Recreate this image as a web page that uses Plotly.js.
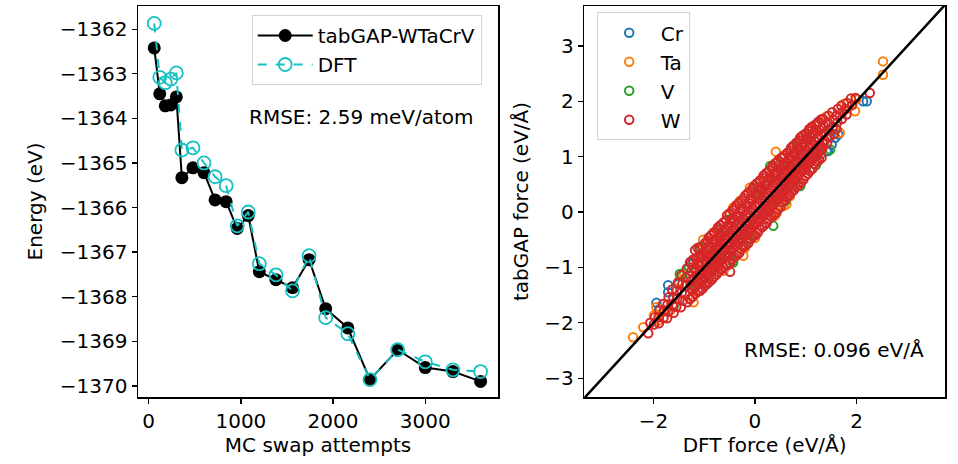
<!DOCTYPE html>
<html>
<head>
<meta charset="utf-8">
<script src="https://cdn.plot.ly/plotly-3.0.1.min.js"></script>
<style>html,body{margin:0;padding:0;background:#fff;}#chart{width:958px;height:464px;}</style>
</head>
<body>
<div id="chart"></div>
<script>
// ---- Left panel: energy vs MC swap attempts ----
const swapAttempts = [60,120,180,240,300,360,480,600,720,840,960,1080,1200,1380,1560,1740,1920,2160,2400,2700,3000,3300,3600];
const energyTabGAP = [-1362.42,-1363.45,-1363.72,-1363.70,-1363.52,-1365.33,-1365.11,-1365.22,-1365.83,-1365.87,-1366.47,-1366.18,-1367.44,-1367.62,-1367.80,-1367.17,-1368.27,-1368.70,-1369.86,-1369.19,-1369.59,-1369.68,-1369.90];
const energyDFT    = [-1361.87,-1363.08,-1363.20,-1363.12,-1362.98,-1364.71,-1364.66,-1365.00,-1365.31,-1365.51,-1366.41,-1366.10,-1367.26,-1367.51,-1367.87,-1367.08,-1368.47,-1368.83,-1369.86,-1369.19,-1369.46,-1369.64,-1369.68];

// ---- Right panel: force parity (DFT force, tabGAP force) ----
const crDFT = [2.20,2.13,1.51,1.44,1.64,1.41,1.58,-1.71,-1.71,-1.94,-1.88,-1.28,-1.25,-1.50,0.20,-0.30,0.80,-0.80,1.20,0.55,-0.60,-1.05];
const crTab = [2.00,2.00,1.22,1.10,1.40,1.10,1.34,-1.32,-1.45,-1.64,-1.75,-0.91,-0.94,-1.30,0.10,-0.20,0.90,-0.90,1.00,0.62,-0.70,-1.12];

const taDFT = [2.52,2.52,1.97,1.99,1.41,0.92,0.82,0.41,0.33,-0.03,-0.10,0.69,0.56,0.43,0.39,1.67,-1.02,-1.08,-0.82,-1.21,-0.62,-0.67,-2.40,-2.20,-1.94,-1.87,-1.67,-1.99,-1.21,-1.90,-0.43,-0.23,-0.50,-0.30,0.10,0.20,1.20,1.10,-1.40,-1.50,0.90,1.20,-0.20,0.00,0.62,1.75,-0.62];
const taTab = [2.72,2.48,1.82,2.03,1.73,1.37,1.25,1.09,0.80,0.44,0.44,0.29,0.11,-0.01,-0.07,1.43,-0.50,-0.70,-0.37,-1.42,-0.91,-1.03,-2.26,-2.08,-1.72,-1.84,-1.78,-1.87,-1.63,-1.96,0.08,-0.79,-0.05,0.20,0.55,0.65,1.55,1.50,-1.10,-1.25,0.50,0.85,-0.65,-0.47,0.14,1.95,-1.06];

const vDFT = [1.08,0.75,0.85,0.82,0.49,0.30,1.48,0.75,0.89,0.36,-0.13,-0.43,-0.49,-1.08,-1.08,-0.43,-1.44,-0.72,-1.48,-0.23,-0.03,-0.49,1.20,1.30,1.60,-1.60,-1.20,0.60,0.10,-0.70,-0.95,1.00,-1.30,0.05];
const vTab = [1.37,1.19,1.24,1.25,0.86,0.83,1.13,0.71,0.47,-0.25,-0.49,-0.91,-0.13,-0.63,-0.64,-0.88,-1.15,-0.85,-1.12,-0.61,-0.43,-0.79,0.85,1.05,1.50,-1.70,-1.30,0.20,0.30,-0.30,-1.30,1.40,-1.00,0.45];

const wDFT = [
-2.10,-2.06,-1.97,-1.99,-1.88,-1.90,-1.89,-1.81,-1.79,-1.80,-1.70,-1.72,-1.71,-1.73,-1.63,-1.61,-1.62,-1.60,
-1.52,-1.54,-1.53,-1.55,-1.45,-1.43,-1.44,-1.42,-1.46,-1.34,-1.36,-1.35,-1.37,-1.33,
-1.27,-1.25,-1.26,-1.24,-1.28,
-1.18,-1.16,-1.17,-1.15,-1.19,-1.17,
-1.09,-1.07,-1.08,-1.06,-1.10,-1.08,
-0.98,-1.00,-0.99,-0.97,-1.01,-0.99,
-0.91,-0.89,-0.90,-0.88,-0.92,-0.90,
-0.80,-0.82,-0.81,-0.79,-0.83,-0.81,
-0.73,-0.71,-0.72,-0.70,-0.74,-0.72,
-0.62,-0.64,-0.63,-0.61,-0.65,-0.63,
-0.55,-0.53,-0.54,-0.52,-0.56,-0.54,
-0.44,-0.46,-0.45,-0.43,-0.47,-0.45,-0.49,
-0.37,-0.35,-0.36,-0.34,-0.38,-0.36,
-0.26,-0.28,-0.27,-0.25,-0.29,-0.27,
-0.19,-0.17,-0.18,-0.16,-0.20,-0.18,
-0.08,-0.10,-0.09,-0.07,-0.11,-0.09,
-0.01,0.01,0.00,0.02,-0.02,0.00,
0.10,0.08,0.09,0.11,0.07,0.09,
0.17,0.19,0.18,0.20,0.16,0.18,
0.28,0.26,0.27,0.29,0.25,0.27,
0.35,0.37,0.36,0.38,0.34,0.36,
0.46,0.44,0.45,0.47,0.43,0.45,
0.53,0.55,0.54,0.56,0.52,0.54,
0.64,0.62,0.63,0.65,0.61,0.63,
0.71,0.73,0.72,0.74,0.70,0.72,
0.82,0.80,0.81,0.83,0.79,0.81,
0.89,0.91,0.90,0.92,0.88,0.90,
1.00,0.98,0.99,1.01,0.97,0.99,
1.07,1.09,1.08,1.10,1.06,1.08,
1.18,1.16,1.17,1.19,1.15,1.17,
1.25,1.27,1.26,1.28,1.24,1.26,
1.34,1.36,1.35,1.37,1.33,
1.45,1.43,1.44,1.46,1.42,
1.52,1.54,1.53,1.55,
1.63,1.61,1.62,1.60,
1.70,1.72,1.71,
1.81,1.79,1.80,
1.89,1.91,1.98,2.26,0.56,
-1.13,-1.04,-0.95,-0.86,-0.77,-0.68,-0.59,-0.50,-0.41,-0.32,-0.23,-0.14,-0.05,0.04,0.13,0.22,0.31,0.40,0.49,0.58,0.67,0.76,0.85,0.94,1.03,1.12,
-1.12,-1.03,-0.94,-0.85,-0.76,-0.67,-0.58,-0.49,-0.40,-0.31,-0.22,-0.13,-0.04,0.05,0.14,0.23,0.32,0.41,0.50,0.59,0.68,0.77,0.86,0.95,1.04,1.13
];
const wTab = [
-2.19,-2.00,-1.90,-2.03,-1.78,-1.90,-2.01,-1.66,-1.78,-1.91,-1.54,-1.67,-1.80,-1.92,-1.40,-1.54,-1.68,-1.82,
-1.28,-1.42,-1.56,-1.71,-1.14,-1.30,-1.45,-1.60,-1.72,-1.02,-1.18,-1.33,-1.49,-1.63,
-0.90,-1.07,-1.24,-1.40,-1.57,
-0.69,-0.85,-1.01,-1.17,-1.33,-1.47,
-0.66,-0.81,-0.97,-1.12,-1.27,-1.42,
-0.56,-0.72,-0.87,-1.03,-1.18,-1.33,
-0.46,-0.62,-0.78,-0.94,-1.10,-1.26,
-0.37,-0.53,-0.69,-0.85,-1.01,-1.17,
-0.28,-0.44,-0.60,-0.76,-0.92,-1.08,
-0.19,-0.35,-0.51,-0.67,-0.83,-0.99,
-0.06,-0.24,-0.42,-0.60,-0.78,-0.96,
0.03,-0.15,-0.33,-0.51,-0.69,-0.85,-1.08,
0.12,-0.06,-0.24,-0.42,-0.60,-0.78,
0.21,0.03,-0.15,-0.33,-0.51,-0.67,
0.30,0.12,-0.06,-0.24,-0.42,-0.60,
0.39,0.21,0.03,-0.15,-0.33,-0.49,
0.48,0.30,0.12,-0.06,-0.24,-0.42,
0.57,0.39,0.21,0.03,-0.15,-0.31,
0.66,0.48,0.30,0.12,-0.06,-0.24,
0.75,0.57,0.39,0.21,0.03,-0.13,
0.84,0.66,0.48,0.30,0.12,-0.06,
0.93,0.75,0.57,0.39,0.21,0.05,
0.98,0.82,0.66,0.50,0.34,0.18,
1.07,0.91,0.75,0.59,0.43,0.27,
1.16,1.00,0.84,0.68,0.52,0.36,
1.25,1.09,0.93,0.77,0.61,0.45,
1.34,1.18,1.02,0.86,0.70,0.54,
1.42,1.26,1.11,0.95,0.80,0.65,
1.50,1.35,1.19,1.04,0.89,0.74,
1.57,1.43,1.29,1.14,1.00,0.87,
1.63,1.48,1.34,1.21,1.07,0.94,
1.68,1.55,1.42,1.29,1.16,
1.74,1.61,1.48,1.35,1.24,
1.80,1.67,1.54,1.41,
1.86,1.74,1.62,1.50,
1.92,1.80,1.68,
1.97,1.86,1.76,
2.05,1.93,2.06,2.15,0.98,
-0.92,-0.81,-0.75,-0.64,-0.54,-0.45,-0.36,-0.26,-0.17,-0.07,0.02,0.12,0.21,0.31,0.40,0.50,0.59,0.68,0.78,0.87,0.96,1.06,1.15,1.24,1.33,1.40,
-1.30,-1.23,-1.13,-1.05,-0.95,-0.86,-0.78,-0.68,-0.59,-0.50,-0.41,-0.32,-0.22,-0.13,-0.04,0.05,0.14,0.24,0.33,0.42,0.52,0.60,0.70,0.80,0.88,0.97
];
// dense core of the W cloud
const wCoreDFT = [
-1.22,-1.20,-1.21,-1.19,-1.23,
-1.13,-1.11,-1.12,-1.10,-1.14,-1.12,
-1.04,-1.02,-1.03,-1.01,-1.05,-1.03,
-0.93,-0.95,-0.94,-0.92,-0.96,-0.94,
-0.86,-0.84,-0.85,-0.83,-0.87,-0.85,
-0.75,-0.77,-0.76,-0.74,-0.78,-0.76,
-0.68,-0.66,-0.67,-0.65,-0.69,-0.67,
-0.57,-0.59,-0.58,-0.56,-0.60,-0.58,
-0.50,-0.48,-0.49,-0.47,-0.51,-0.49,
-0.40,-0.42,-0.41,-0.39,-0.43,-0.41,
-0.32,-0.30,-0.31,-0.29,-0.33,-0.31,
-0.22,-0.24,-0.23,-0.21,-0.25,-0.23,
-0.14,-0.12,-0.13,-0.11,-0.15,-0.13,
-0.04,-0.06,-0.05,-0.03,-0.07,-0.05,
0.04,0.06,0.05,0.07,0.03,0.05,
0.15,0.13,0.14,0.16,0.12,0.14,
0.22,0.24,0.23,0.25,0.21,0.23,
0.33,0.31,0.32,0.34,0.30,0.32,
0.40,0.42,0.41,0.43,0.39,0.41,
0.51,0.49,0.50,0.52,0.48,0.50,
0.58,0.60,0.59,0.61,0.57,0.59,
0.69,0.67,0.68,0.70,0.66,0.68,
0.76,0.78,0.77,0.79,0.75,0.77,
0.87,0.85,0.86,0.88,0.84,0.86,
0.94,0.96,0.95,0.97,0.93,0.95,
1.05,1.03,1.04,1.06,1.02,1.04,
1.12,1.14,1.13,1.15,1.11,1.13,
1.23,1.21,1.22,1.24,1.20,1.22,
1.30,1.32,1.31,1.33,1.29,1.31
];
const wCoreTab = [
-0.86,-1.03,-1.20,-1.36,-1.53,
-0.65,-0.81,-0.97,-1.13,-1.29,-1.43,
-0.62,-0.77,-0.93,-1.08,-1.23,-1.38,
-0.52,-0.68,-0.83,-0.99,-1.14,-1.29,
-0.42,-0.58,-0.74,-0.90,-1.06,-1.22,
-0.33,-0.49,-0.65,-0.81,-0.97,-1.13,
-0.24,-0.40,-0.56,-0.72,-0.88,-1.04,
-0.15,-0.31,-0.47,-0.63,-0.79,-0.95,
-0.02,-0.20,-0.38,-0.56,-0.74,-0.92,
0.07,-0.11,-0.29,-0.47,-0.65,-0.81,
0.16,-0.02,-0.20,-0.38,-0.56,-0.74,
0.25,0.07,-0.11,-0.29,-0.47,-0.63,
0.34,0.16,-0.02,-0.20,-0.38,-0.56,
0.43,0.25,0.07,-0.11,-0.29,-0.45,
0.52,0.34,0.16,-0.02,-0.20,-0.38,
0.61,0.43,0.25,0.07,-0.11,-0.27,
0.70,0.52,0.34,0.16,-0.02,-0.20,
0.79,0.61,0.43,0.25,0.07,-0.09,
0.88,0.70,0.52,0.34,0.16,-0.02,
0.97,0.79,0.61,0.43,0.25,0.09,
1.02,0.86,0.70,0.54,0.38,0.22,
1.11,0.95,0.79,0.63,0.47,0.31,
1.20,1.04,0.88,0.72,0.56,0.40,
1.29,1.13,0.97,0.81,0.65,0.49,
1.38,1.22,1.06,0.90,0.74,0.58,
1.46,1.30,1.15,0.99,0.84,0.69,
1.54,1.39,1.23,1.08,0.93,0.78,
1.61,1.47,1.33,1.18,1.04,0.91,
1.67,1.52,1.38,1.25,1.11,0.98
];

const parityLine = [-3.5, 3.9];

const FONT = 'DejaVu Sans, Verdana, sans-serif';
const fs = 20;
const mk = {symbol: 'circle-open', size: 8.5, line: {width: 2}};

const traces = [
  {x: swapAttempts, y: energyTabGAP, name: 'tabGAP-WTaCrV', mode: 'lines+markers', xaxis: 'x', yaxis: 'y',
   line: {color: '#000000', width: 2}, marker: {color: '#000000', size: 13}, legend: 'legend', legendgroup: 'a'},
  {x: swapAttempts, y: energyDFT, name: 'DFT', mode: 'lines+markers', xaxis: 'x', yaxis: 'y',
   line: {color: '#17c1c1', width: 2, dash: 'dash'}, marker: {symbol: 'circle-open', color: '#17c1c1', size: 13, line: {width: 1.8}}, legend: 'legend', legendgroup: 'b'},
  {x: crDFT, y: crTab, name: 'Cr', mode: 'markers', xaxis: 'x2', yaxis: 'y2', legend: 'legend2', legendgroup: 'c',
   marker: Object.assign({color: '#1f77b4'}, mk)},
  {x: taDFT, y: taTab, name: 'Ta', mode: 'markers', xaxis: 'x2', yaxis: 'y2', legend: 'legend2', legendgroup: 'd',
   marker: Object.assign({color: '#ff7f0e'}, mk)},
  {x: vDFT, y: vTab, name: 'V', mode: 'markers', xaxis: 'x2', yaxis: 'y2', legend: 'legend2', legendgroup: 'e',
   marker: Object.assign({color: '#2ca02c'}, mk)},
  {x: wDFT.concat(wCoreDFT), y: wTab.concat(wCoreTab), name: 'W', mode: 'markers', xaxis: 'x2', yaxis: 'y2', legend: 'legend2', legendgroup: 'f',
   marker: Object.assign({color: '#d62728'}, mk)},
  {x: parityLine, y: parityLine, mode: 'lines', xaxis: 'x2', yaxis: 'y2', showlegend: false,
   line: {color: '#000000', width: 2.5}, hoverinfo: 'skip'}
];

const axisCommon = {
  showline: true, mirror: true, linecolor: '#000', linewidth: 1.5,
  ticks: 'outside', ticklen: 5, tickwidth: 1.3, tickcolor: '#000',
  showgrid: false, zeroline: false,
  tickfont: {family: FONT, size: fs, color: '#000'}
};

const layout = {
  width: 958, height: 464,
  margin: {l: 138, r: 13, t: 6, b: 67},
  paper_bgcolor: '#fff', plot_bgcolor: '#fff',
  font: {family: FONT, size: fs, color: '#000'},
  xaxis: Object.assign({}, axisCommon, {domain: [0, 0.4461], range: [-116, 3789], dtick: 1000, tick0: 0,
    title: {text: 'MC swap attempts', font: {family: FONT, size: fs}, standoff: 4}}),
  yaxis: Object.assign({}, axisCommon, {domain: [0, 1], range: [-1370.25, -1361.48], dtick: 1, tick0: -1370,
    title: {text: 'Energy (eV)', font: {family: FONT, size: fs}, standoff: 12}}),
  xaxis2: Object.assign({}, axisCommon, {domain: [0.5530, 1], range: [-3.36, 3.74], dtick: 2, tick0: 0, anchor: 'y2',
    title: {text: 'DFT force (eV/Å)', font: {family: FONT, size: fs}, standoff: 4}}),
  yaxis2: Object.assign({}, axisCommon, {domain: [0, 1], range: [-3.34, 3.72], dtick: 1, tick0: 0, anchor: 'x2',
    title: {text: 'tabGAP force (eV/Å)', font: {family: FONT, size: fs}, standoff: 10}}),
  showlegend: true,
  legend: {x: 0.1409, y: 0.977, xanchor: 'left', yanchor: 'top', bgcolor: 'rgba(255,255,255,0.85)',
    bordercolor: '#d4d4d4', borderwidth: 1, font: {family: FONT, size: fs}, tracegroupgap: 0, itemwidth: 55},
  legend2: {x: 0.5684, y: 0.984, xanchor: 'left', yanchor: 'top', bgcolor: 'rgba(255,255,255,0.85)',
    bordercolor: '#d4d4d4', borderwidth: 1, font: {family: FONT, size: fs}, tracegroupgap: 0, itemwidth: 53},
  annotations: [
    {text: 'RMSE: 2.59 meV/atom', xref: 'paper', yref: 'paper', x: 0.1347, y: 0.7161, xanchor: 'left', yanchor: 'middle',
     showarrow: false, font: {family: FONT, size: fs, color: '#000'}},
    {text: 'RMSE: 0.096 eV/Å', xref: 'paper', yref: 'paper', x: 0.748, y: 0.1202, xanchor: 'left', yanchor: 'middle',
     showarrow: false, font: {family: FONT, size: fs, color: '#000'}}
  ]
};

Plotly.newPlot('chart', traces, layout, {displayModeBar: false, staticPlot: true});
</script>
</body>
</html>
